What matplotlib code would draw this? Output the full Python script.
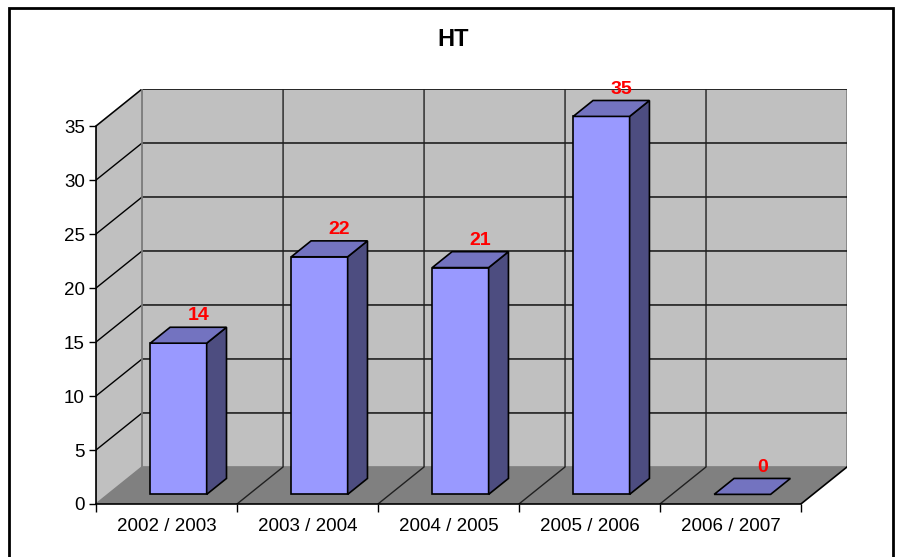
import matplotlib.pyplot as plt
from matplotlib.patches import Polygon, Rectangle

seasons = ['2002 / 2003', '2003 / 2004', '2004 / 2005', '2005 / 2006', '2006 / 2007']
counts = [14, 22, 21, 35, 0]
title = 'HT'
y_ticks = [0, 5, 10, 15, 20, 25, 30, 35]

plt.rcParams['font.family'] = ['Liberation Sans', 'DejaVu Sans']

# oblique 3d offset of the back wall, in data units
DX, DY = 0.327, 3.43
ymax = 35
bar_w = 0.40
d0, d1 = 0.26, 0.69

fig = plt.figure(figsize=(8.99, 5.57), dpi=100)
fig.patches.append(Rectangle((9 / 899, -0.05), 884 / 899, 1 - 8 / 557 + 0.05,
                             transform=fig.transFigure, fill=False,
                             edgecolor='black', linewidth=2))
fig.text(453 / 899, 1 - 40 / 557, title, ha='center', va='center',
         fontsize=17, fontweight='bold')

ax = fig.add_axes([96 / 899, 53 / 557, 751 / 899, 415 / 557])
n = len(seasons)
ax.set_xlim(0, n + DX)
ax.set_ylim(0, ymax + DY)
ax.patch.set_visible(False)

# walls and floor
ax.add_patch(Polygon([(DX, DY), (n + DX, DY), (n + DX, ymax + DY), (DX, ymax + DY)],
                     closed=True, facecolor='#C0C0C0', edgecolor='#808080', lw=1.2, zorder=0))
ax.add_patch(Polygon([(0, 0), (DX, DY), (DX, ymax + DY), (0, ymax)],
                     closed=True, facecolor='#C0C0C0', edgecolor='#808080', lw=1.2, zorder=0))
ax.add_patch(Polygon([(0, 0), (n, 0), (n + DX, DY), (DX, DY)],
                     closed=True, facecolor='#808080', edgecolor='none', zorder=1))
ax.plot([n, n + DX], [0, DY], color='black', lw=1.2, zorder=2)

# gridlines on the side and back walls
for v in y_ticks[1:]:
    ax.plot([0, DX, n + DX], [v, v + DY, v + DY], color='black', lw=1, zorder=1)
for k in range(1, n):
    ax.plot([k, k + DX, k + DX], [0, DY, ymax + DY], color='#202020', lw=1, zorder=1)
ax.plot([DX, DX], [DY, ymax + DY], color='#808080', lw=1.2, zorder=1)

# bars
for i, v in enumerate(counts):
    x0 = i + 0.5 - bar_w / 2
    x1 = x0 + bar_w
    fx0, fx1 = x0 + d0 * DX, x1 + d0 * DX
    fy0, fy1 = d0 * DY, v + d0 * DY
    ox, oy = (d1 - d0) * DX, (d1 - d0) * DY
    if v > 0:
        ax.add_patch(Polygon([(fx0, fy0), (fx1, fy0), (fx1, fy1), (fx0, fy1)],
                             facecolor='#9999FF', edgecolor='black', lw=1.2, zorder=3))
        ax.add_patch(Polygon([(fx1, fy0), (fx1 + ox, fy0 + oy), (fx1 + ox, fy1 + oy), (fx1, fy1)],
                             facecolor='#4D4D80', edgecolor='black', lw=1.2, zorder=3))
    ax.add_patch(Polygon([(fx0, fy1), (fx1, fy1), (fx1 + ox, fy1 + oy), (fx0 + ox, fy1 + oy)],
                         facecolor='#7373C0', edgecolor='black', lw=1.2, zorder=3))
    ax.annotate(str(v), (i + 0.5 + d1 * DX, v + d1 * DY), xytext=(0, 2),
                textcoords='offset points', ha='center', va='bottom',
                color='red', fontsize=14, fontweight='bold', zorder=4)

# front axes
for side in ['top', 'right']:
    ax.spines[side].set_visible(False)
ax.spines['left'].set_bounds(0, ymax)
ax.spines['bottom'].set_bounds(0, n)
ax.spines['left'].set_linewidth(1.2)
ax.spines['bottom'].set_linewidth(1.2)
ax.spines['left'].set_zorder(2)
ax.spines['bottom'].set_zorder(2)
ax.set_yticks(y_ticks)
ax.tick_params(axis='y', direction='out', length=5, width=1, labelsize=13.5, pad=3)
ax.set_xticks(range(n + 1))
ax.set_xticklabels([])
ax.set_xticks([i + 0.5 for i in range(n)], minor=True)
ax.set_xticklabels(seasons, minor=True)
ax.tick_params(axis='x', which='major', direction='out', length=6, width=1)
ax.tick_params(axis='x', which='minor', length=0, labelsize=13.5, pad=10)

fig.savefig('out.png', dpi=100)
